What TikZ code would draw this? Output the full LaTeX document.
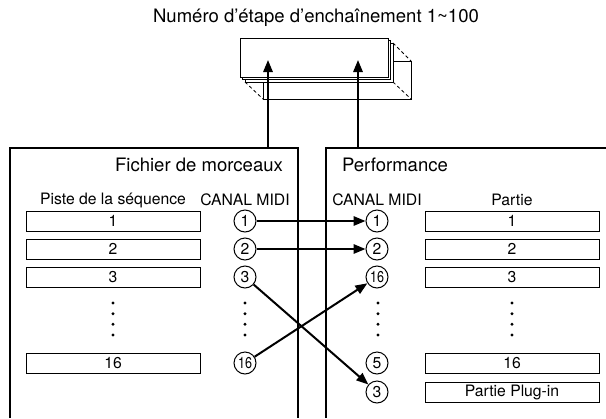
\documentclass[tikz,border=0pt]{standalone}
\usepackage{fontspec}
\setmainfont{TeX Gyre Heros}
\usetikzlibrary{arrows.meta}

\begin{document}
\begin{tikzpicture}[
    x=0.75pt, y=-0.75pt,
    big_text/.style={inner sep=0, font=\fontsize{13.9}{16}\selectfont},
    head_text/.style={inner sep=0, font=\fontsize{11.8}{14}\selectfont},
    part_box/.style={rectangle, draw, line width=0.75pt, minimum width=130.5pt, minimum height=15pt, inner sep=0, font=\fontsize{11.8}{14}\selectfont},
    chan/.style={circle, draw, line width=0.75pt, minimum size=16.5pt, inner sep=0, font=\fontsize{11.8}{14}\selectfont},
    frame_line/.style={line width=1.5pt},
    link/.style={line width=1.5pt, -{Triangle[length=9pt, width=7pt]}},
    chain_layer/.style={draw, fill=white, line width=0.75pt},
    hidden_edge/.style={line width=0.6pt, dash pattern=on 2.5pt off 2pt}
]
\useasboundingbox (0,0) rectangle (606,418);

% chain steps stack
\node[big_text] (chain_title) at (316,18) {Numéro d’étape d’enchaînement 1\char"7E 100};
\draw[chain_layer] (263,61) rectangle (411,99);
\draw[hidden_edge] (245,82) -- (263,99);
\draw[hidden_edge] (393,43) -- (411,61);
\draw[hidden_edge] (393,82) -- (411,99);
\draw[chain_layer] (245,43) rectangle (393,82);
\draw[chain_layer] (242.5,40.5) rectangle (390.5,79.5);
\draw[chain_layer] (240,38) rectangle (388,77);

% frames
\draw[frame_line] (10,418) -- (10,148) -- (298,148) -- (298,418);
\draw[frame_line] (326,418) -- (326,148) -- (606,148);
\coordinate (song_out) at (268,148);
\coordinate (song_in) at (268,60);
\coordinate (perf_out) at (358,148);
\coordinate (perf_in) at (358,60);
\draw[link] (song_out) -- (song_in);
\draw[link] (perf_out) -- (perf_in);

\node[big_text] (song_title) at (199,165) {Fichier de morceaux};
\node[big_text] (perf_title) at (395,165) {Performance};
\node[head_text] (track_head) at (113,200) {Piste de la séquence};
\node[head_text] (lchan_head) at (245,200) {CANAL MIDI};
\node[head_text] (rchan_head) at (377,200) {CANAL MIDI};
\node[head_text] (part_head) at (512,200) {Partie};

% song side
\node[part_box] (t1) at (113,221) {1};
\node[part_box] (t2) at (113,249) {2};
\node[part_box] (t3) at (113,277) {3};
\node[part_box] (t16) at (113,363) {16};
\node[chan] (l1) at (245,221) {1};
\node[chan] (l2) at (245,249) {2};
\node[chan] (l3) at (245,277) {3};
\node[chan] (l16) at (245,363) {\scalebox{0.8}[1]{16}};

% performance side
\node[part_box] (p1) at (512,221) {1};
\node[part_box] (p2) at (512,249) {2};
\node[part_box] (p3) at (512,277) {3};
\node[part_box] (p16) at (512,363) {16};
\node[part_box] (plugin) at (512,392) {Partie Plug-in};
\node[chan] (r1) at (377,221) {1};
\node[chan] (r2) at (377,249) {2};
\node[chan] (r16) at (377,277) {\scalebox{0.8}[1]{16}};
\node[chan] (r5) at (377,363) {5};
\node[chan] (r3) at (377,392) {3};

\foreach \x in {113,245,378,512}
    \foreach \y in {303,313.7,324.3,335}
        \fill (\x,\y) circle (1.2pt);

% channel links
\draw[link] (l1) -- (r1);
\draw[link] (l2) -- (r2);
\draw[link] (l3) -- (r3);
\draw[link] (l16) -- (r16);
\end{tikzpicture}
\end{document}
